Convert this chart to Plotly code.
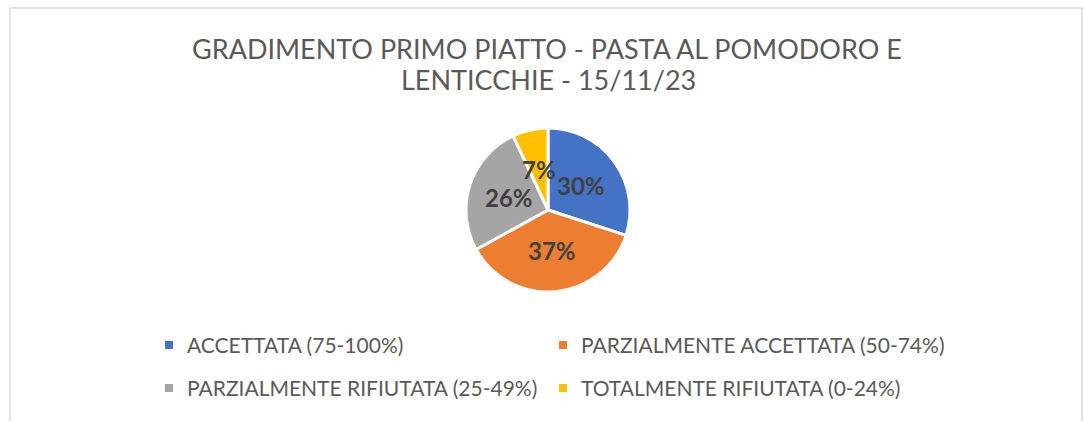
import math
import plotly.graph_objects as go

# Gradimento del primo piatto (pasta al pomodoro e lenticchie), 15/11/23
titolo = ["GRADIMENTO PRIMO PIATTO - PASTA AL POMODORO E", "LENTICCHIE - 15/11/23"]
categorie = [
    "ACCETTATA (75-100%)",
    "PARZIALMENTE ACCETTATA (50-74%)",
    "PARZIALMENTE RIFIUTATA (25-49%)",
    "TOTALMENTE RIFIUTATA (0-24%)",
]
percentuali = [30, 37, 26, 7]
colori = ["#4472C4", "#ED7D31", "#A5A5A5", "#FFC000"]

W, H = 1084, 421
cx, cy, R = 548, 210, 82  # pie centre and radius in pixels

fig = go.Figure(
    go.Pie(
        labels=categorie,
        values=percentuali,
        sort=False,
        direction="clockwise",
        rotation=0,
        marker=dict(colors=colori, line=dict(color="white", width=3)),
        textinfo="none",
        hoverinfo="label+percent",
        showlegend=False,
        domain=dict(x=[(cx - R) / W, (cx + R) / W], y=[1 - (cy + R) / H, 1 - (cy - R) / H]),
    )
)

# percentage labels placed halfway along each slice's bisector
tot = sum(percentuali)
acc = 0
for v in percentuali:
    mid = (acc + v / 2) / tot * 2 * math.pi
    acc += v
    px = cx + 0.5 * R * math.sin(mid)
    py = cy - 0.5 * R * math.cos(mid)
    fig.add_annotation(
        x=px / W, y=1 - py / H, xref="paper", yref="paper",
        text=f"<b>{round(v / tot * 100)}%</b>", showarrow=False,
        font=dict(family="Lato", size=24, color="#404040"),
    )

# two-line title
for i, riga in enumerate(titolo):
    fig.add_annotation(
        x=(546.5 + 1.5 * i) / W, y=1 - (49 + 31 * i) / H, xref="paper", yref="paper",
        xanchor="center", yanchor="middle", text=riga, showarrow=False,
        font=dict(family="Lato", size=27, color="#595959"),
    )

# legend: two columns, two rows
col_x = [169, 563]
row_y = [344, 387]
for i, (nome, colore) in enumerate(zip(categorie, colori)):
    mx, my = col_x[i % 2], row_y[i // 2]
    fig.add_shape(type="rect", xref="paper", yref="paper",
                  x0=(mx - 4) / W, x1=(mx + 4) / W, y0=1 - (my + 5) / H, y1=1 - (my - 3) / H,
                  line=dict(width=0), fillcolor=colore)
    fig.add_annotation(
        x=(mx + 16) / W, y=1 - my / H, xref="paper", yref="paper",
        xanchor="left", yanchor="middle", text=nome, showarrow=False,
        font=dict(family="Lato", size=21, color="#595959"),
    )

# chart frame
fig.add_shape(type="rect", xref="paper", yref="paper",
              x0=10 / W, x1=1082 / W, y0=-0.2, y1=1 - 8 / H,
              line=dict(color="#D9D9D9", width=1.5), fillcolor="rgba(0,0,0,0)")

fig.update_layout(
    width=W, height=H,
    margin=dict(l=0, r=0, t=0, b=0),
    paper_bgcolor="white",
    plot_bgcolor="white",
    showlegend=False,
)

fig.write_html("out.html")
